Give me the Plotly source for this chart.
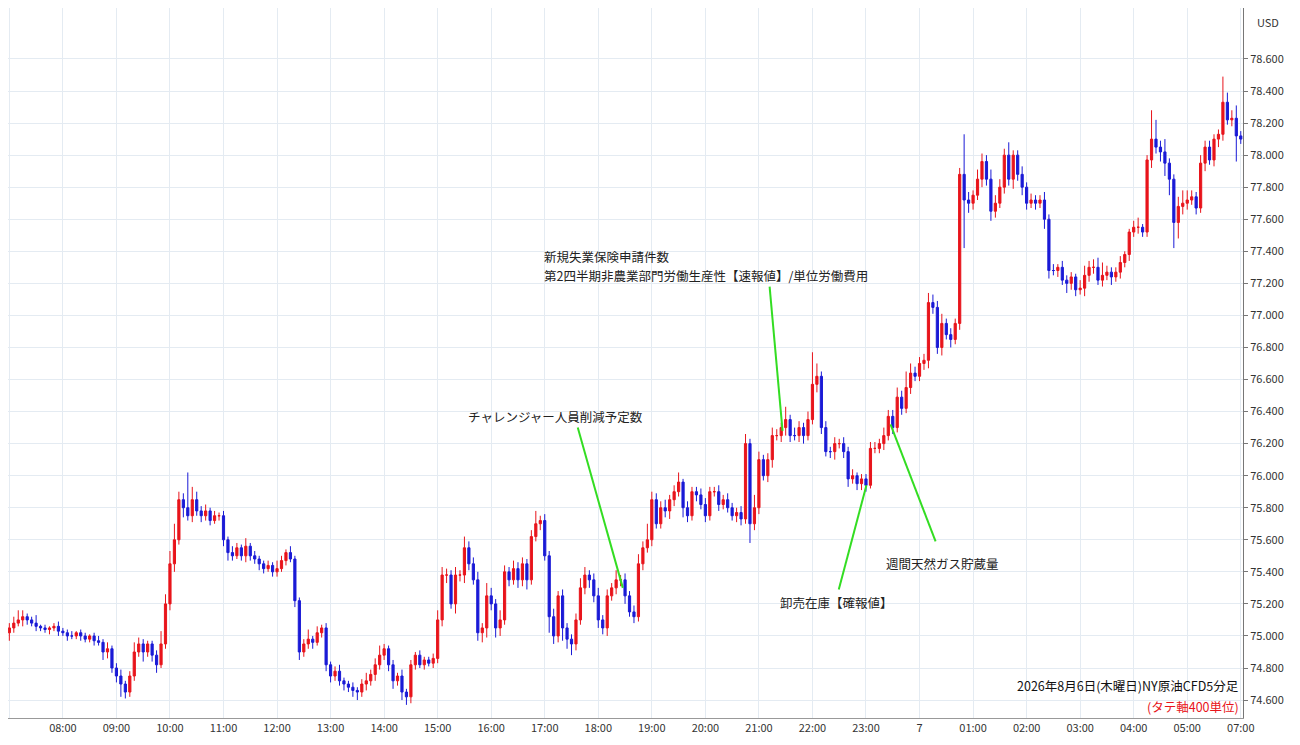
import plotly.graph_objects as go

# 5-minute closes from 07:00 (Aug 6) to 07:00 (Aug 7); 06:00-07:00 is a market break
closes = [
    75.05, 75.08, 75.10, 75.12, 75.10, 75.08, 75.06, 75.05, 75.04, 75.05, 75.06, 75.03,  # 07
    75.02, 75.00, 75.00, 75.02, 75.00, 74.98, 75.00, 74.97, 74.96, 74.90, 74.92, 74.80,  # 08
    74.75, 74.70, 74.65, 74.75, 74.90, 74.95, 74.90, 74.95, 74.88, 74.82, 74.95, 75.20,  # 09
    75.45, 75.60, 75.85, 75.80, 75.75, 75.85, 75.78, 75.75, 75.78, 75.72, 75.75, 75.75,  # 10
    75.60, 75.52, 75.50, 75.55, 75.50, 75.56, 75.50, 75.48, 75.45, 75.42, 75.44, 75.40,  # 11
    75.42, 75.47, 75.52, 75.48, 75.22, 74.90, 74.95, 74.98, 74.96, 75.02, 75.05, 74.82,  # 12
    74.75, 74.78, 74.72, 74.70, 74.68, 74.66, 74.65, 74.70, 74.72, 74.76, 74.82, 74.88,  # 13
    74.92, 74.82, 74.72, 74.75, 74.65, 74.62, 74.82, 74.88, 74.82, 74.85, 74.83, 74.86,  # 14
    75.10, 75.38, 75.38, 75.20, 75.38, 75.38, 75.55, 75.45, 75.35, 75.02, 75.05, 75.25,  # 15
    75.20, 75.05, 75.10, 75.40, 75.35, 75.42, 75.35, 75.45, 75.35, 75.62, 75.70, 75.72,  # 16
    75.50, 75.12, 75.00, 75.25, 75.05, 74.98, 74.95, 75.10, 75.30, 75.38, 75.35, 75.25,  # 17
    75.10, 75.05, 75.25, 75.30, 75.35, 75.35, 75.25, 75.15, 75.12, 75.45, 75.55, 75.60,  # 18
    75.85, 75.70, 75.80, 75.78, 75.85, 75.90, 75.96, 75.80, 75.75, 75.90, 75.88, 75.82,  # 19
    75.75, 75.90, 75.90, 75.82, 75.85, 75.80, 75.75, 75.77, 75.73, 76.20, 75.70, 75.80,  # 20
    76.10, 76.00, 76.10, 76.25, 76.25, 76.30, 76.35, 76.25, 76.25, 76.30, 76.25, 76.35,  # 21
    76.57, 76.62, 76.30, 76.15, 76.15, 76.20, 76.20, 76.15, 75.98, 76.00, 75.95, 75.98,  # 22
    75.94, 76.17, 76.17, 76.20, 76.25, 76.37, 76.30, 76.49, 76.42, 76.55, 76.64, 76.62,  # 23
    76.70, 76.72, 77.08, 77.05, 76.80, 76.95, 76.88, 76.85, 76.95, 77.88, 77.72, 77.70,  # 00
    77.75, 77.85, 77.96, 77.85, 77.65, 77.70, 77.80, 78.00, 77.85, 78.00, 77.88, 77.80,  # 01
    77.70, 77.72, 77.70, 77.72, 77.60, 77.28, 77.28, 77.30, 77.22, 77.20, 77.24, 77.16,  # 02
    77.17, 77.25, 77.30, 77.30, 77.22, 77.25, 77.27, 77.24, 77.27, 77.33, 77.38, 77.52,  # 03
    77.55, 77.55, 77.52, 77.97, 78.10, 78.05, 78.02, 77.95, 77.85, 77.58, 77.68, 77.70,  # 04
    77.72, 77.74, 77.67, 77.95, 78.05, 77.97, 78.10, 78.13, 78.33, 78.22, 78.23, 78.12,  # 05
    78.10,                                                                               # 07
]
first_open = 75.02

# wick lengths in cents above / below the body
wick_up = [
    3, 4, 6, 4, 2, 2, 5, 1, 2, 1, 2, 3,
    2, 2, 3, 1, 2, 2, 1, 2, 3, 2, 4, 2,
    3, 4, 2, 3, 6, 4, 3, 2, 2, 3, 8, 6,
    8, 10, 5, 4, 22, 8, 5, 3, 4, 2, 3, 2,
    3, 2, 4, 3, 2, 5, 2, 3, 2, 2, 3, 2,
    5, 3, 2, 4, 2, 2, 3, 6, 2, 4, 2, 3,
    2, 3, 4, 2, 2, 3, 2, 3, 5, 3, 4, 6,
    3, 2, 3, 2, 4, 2, 3, 2, 3, 2, 2, 3,
    6, 5, 4, 3, 5, 3, 7, 4, 4, 5, 3, 8,
    5, 3, 6, 4, 3, 5, 4, 4, 3, 4, 8, 3,
    4, 3, 5, 3, 4, 3, 3, 4, 6, 5, 3, 4,
    5, 3, 4, 3, 6, 3, 4, 3, 4, 6, 4, 10,
    5, 4, 4, 5, 3, 4, 6, 2, 4, 3, 3, 4,
    4, 3, 3, 4, 3, 4, 3, 3, 4, 6, 3, 8,
    5, 3, 4, 5, 4, 3, 8, 3, 5, 4, 3, 5,
    20, 8, 3, 4, 3, 4, 3, 4, 3, 4, 2, 3,
    3, 4, 4, 3, 5, 4, 4, 6, 4, 10, 6, 4,
    4, 4, 6, 5, 4, 6, 3, 4, 3, 4, 25, 5,
    3, 6, 5, 4, 6, 5, 5, 4, 8, 3, 3, 5,
    3, 4, 3, 3, 5, 3, 4, 2, 4, 3, 3, 2,
    5, 6, 4, 5, 6, 8, 4, 3, 3, 4, 2, 2,
    4, 6, 2, 3, 18, 12, 4, 8, 3, 3, 6, 8,
    6, 4, 3, 5, 4, 4, 3, 3, 16, 6, 5, 8,
    3,
]
wick_dn = [
    5, 3, 2, 4, 3, 2, 3, 2, 2, 3, 2, 3,
    2, 3, 2, 2, 3, 2, 2, 3, 2, 5, 4, 3,
    4, 8, 4, 3, 3, 3, 6, 3, 4, 5, 2, 3,
    4, 5, 3, 6, 3, 4, 3, 4, 3, 3, 2, 3,
    4, 5, 3, 2, 3, 4, 3, 3, 4, 3, 2, 3,
    3, 2, 3, 2, 4, 5, 3, 3, 4, 2, 3, 4,
    4, 3, 3, 4, 3, 4, 5, 3, 4, 3, 4, 3,
    3, 4, 5, 3, 5, 5, 4, 3, 2, 3, 2, 3,
    3, 4, 5, 3, 6, 4, 5, 4, 3, 5, 6, 6,
    4, 6, 5, 3, 4, 3, 5, 4, 6, 3, 3, 4,
    3, 10, 5, 4, 8, 6, 7, 4, 3, 4, 5, 4,
    5, 4, 5, 3, 4, 4, 5, 3, 4, 3, 4, 3,
    4, 3, 3, 4, 5, 4, 3, 6, 4, 3, 4, 3,
    4, 3, 3, 4, 3, 3, 3, 4, 4, 3, 12, 4,
    4, 3, 4, 5, 3, 4, 5, 4, 3, 4, 5, 3,
    3, 5, 4, 3, 4, 5, 3, 4, 5, 3, 4, 4,
    4, 2, 3, 3, 4, 3, 4, 3, 4, 3, 4, 3,
    3, 4, 5, 4, 4, 5, 3, 5, 3, 4, 30, 6,
    4, 3, 5, 4, 6, 4, 3, 4, 4, 6, 4, 5,
    4, 3, 4, 3, 6, 5, 3, 4, 3, 6, 4, 4,
    3, 5, 4, 4, 3, 4, 3, 5, 3, 4, 3, 4,
    3, 4, 3, 3, 5, 4, 6, 8, 10, 16, 10, 5,
    4, 3, 4, 3, 5, 3, 4, 5, 4, 3, 4, 16,
    3,
]

hour_ticks = [0, 12, 24, 36, 48, 60, 72, 84, 96, 108, 120, 132, 144, 156, 168, 180,
              192, 204, 216, 228, 240, 252, 264, 276]
hour_labels = ["07:00", "08:00", "09:00", "10:00", "11:00", "12:00", "13:00", "14:00",
               "15:00", "16:00", "17:00", "18:00", "19:00", "20:00", "21:00", "22:00",
               "23:00", "7", "01:00", "02:00", "03:00", "04:00", "05:00", "07:00"]
price_ticks = [74.6, 74.8, 75.0, 75.2, 75.4, 75.6, 75.8, 76.0, 76.2, 76.4, 76.6, 76.8,
               77.0, 77.2, 77.4, 77.6, 77.8, 78.0, 78.2, 78.4, 78.6]

# event labels: text, text position (index, price), anchor, leader line from -> to
events = [
    ("チャレンジャー人員削減予定数", 122.5, 76.37, "center", (127.4, 76.30), (137.5, 75.30)),
    ("新規失業保険申請件数", 119.3, 77.37, "left", None, None),
    ("第2四半期非農業部門労働生産性【速報値】/単位労働費用", 119.3, 77.25, "left",
     (170.4, 77.18), (173.3, 76.28)),
    ("卸売在庫【確報値】", 185.4, 75.21, "center", (185.9, 75.29), (192.1, 75.94)),
    ("週間天然ガス貯蔵量", 209.1, 75.45, "center", (207.6, 75.59), (197.5, 76.32)),
]

opens = [first_open] + closes[:-1]
idx = list(range(len(closes)))
highs = [max(o, c) + u / 100 for o, c, u in zip(opens, closes, wick_up)]
lows = [min(o, c) - d / 100 for o, c, d in zip(opens, closes, wick_dn)]

RED = "#e8141b"
BLUE = "#1a1ad6"
FONT = "Noto Sans CJK JP"

fig = go.Figure(go.Candlestick(
    x=idx, open=opens, high=highs, low=lows, close=closes,
    increasing=dict(line=dict(color=RED, width=1), fillcolor=RED),
    decreasing=dict(line=dict(color=BLUE, width=1), fillcolor=BLUE),
    whiskerwidth=0, showlegend=False, hoverinfo="skip",
))

for text, tx, ty, align, p0, p1 in events:
    if p0 is not None:
        fig.add_shape(type="line", x0=p0[0], y0=p0[1], x1=p1[0], y1=p1[1],
                      line=dict(color="#33dd22", width=2))
    fig.add_annotation(x=tx, y=ty, text=text, showarrow=False, align=align,
                       xanchor="left" if align == "left" else "center",
                       font=dict(size=12.5, color="#222", family=FONT))

fig.add_annotation(xref="paper", yref="paper", x=0.998, y=0.03, text="2026年8月6日(木曜日)NY原油CFD5分足",
                   showarrow=False, xanchor="right", font=dict(size=12.5, color="#111", family=FONT))
fig.add_annotation(xref="paper", yref="paper", x=0.998, y=0.0, yanchor="bottom",
                   text="(タテ軸400単位)", showarrow=False, xanchor="right",
                   font=dict(size=12.5, color="#e8141b", family=FONT))
fig.add_annotation(xref="paper", yref="paper", x=1.01, y=0.995, text="USD", showarrow=False,
                   xanchor="left", yanchor="top", font=dict(size=11, color="#333", family=FONT))

fig.update_layout(
    width=1284, height=729, margin=dict(l=0, r=49, t=0, b=19),
    paper_bgcolor="white", plot_bgcolor="white",
    font=dict(family=FONT, size=11, color="#333"),
    xaxis=dict(range=[-0.3, 276.5], tickvals=hour_ticks, ticktext=hour_labels,
               showgrid=True, gridcolor="#e4ebf2", rangeslider=dict(visible=False),
               zeroline=False, ticks="", showline=True, linecolor="#999"),
    yaxis=dict(side="right", range=[74.488, 78.918], tickvals=price_ticks, tickformat=".3f",
               showgrid=True, gridcolor="#e4ebf2", zeroline=False, showline=True,
               linecolor="#777", ticks="outside", ticklen=4, tickcolor="#777"),
)

fig.write_html("out.html")
